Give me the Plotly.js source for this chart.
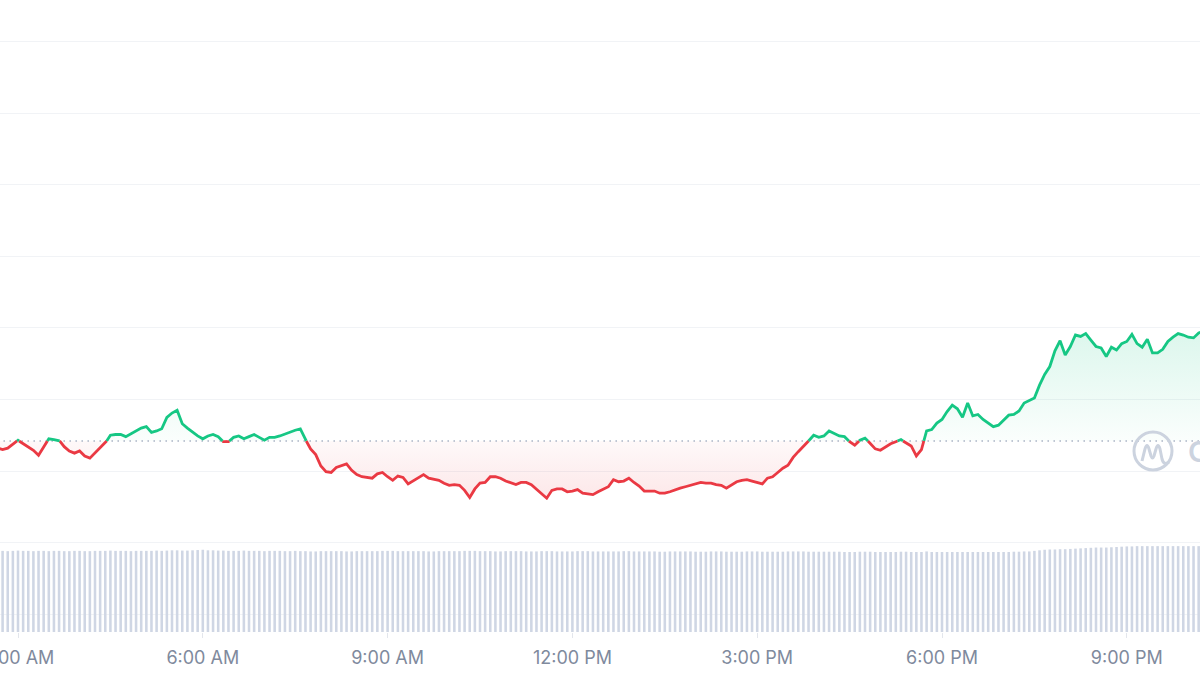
<!DOCTYPE html>
<html>
<head>
<meta charset="utf-8">
<script src="https://cdn.plot.ly/plotly-3.0.1.min.js"></script>
<style>
  html, body { margin: 0; padding: 0; background: #ffffff; }
  #chart { width: 1200px; height: 675px; }
</style>
</head>
<body>
<div id="chart"></div>
<script>
// ---------- DATA (5-minute samples) ----------
const startTime = '2024-06-12 02:40:00';   // first sample
const stepMinutes = 5;
const openPrice = 67042;                   // dotted reference line (24h open)

const prices = [
  67032, 67030, 67032, 67037, 67043, 67038, 67033, 67029, 67022, 67034,
  67045, 67044, 67043, 67034, 67028, 67025, 67028, 67021, 67018, 67025,
  67032, 67039, 67050, 67051, 67051, 67048, 67052, 67055, 67060, 67062,
  67054, 67056, 67059, 67075, 67081, 67085, 67066, 67060, 67054, 67049,
  67045, 67049, 67051, 67048, 67041, 67041, 67047, 67049, 67045, 67048,
  67051, 67047, 67043, 67047, 67047, 67049, 67052, 67055, 67057, 67059,
  67044, 67031, 67023, 67007, 66999, 66998, 67005, 67007, 67010, 67001,
  66995, 66992, 66991, 66990, 66996, 66998, 66992, 66987, 66993, 66991,
  66982, 66986, 66991, 66995, 66990, 66988, 66987, 66983, 66980, 66981,
  66980, 66973, 66963, 66975, 66983, 66984, 66992, 66992, 66990, 66986,
  66983, 66981, 66984, 66984, 66981, 66975, 66968, 66962, 66973, 66975,
  66975, 66971, 66972, 66974, 66969, 66968, 66967, 66971, 66974, 66978,
  66988, 66985, 66986, 66990, 66984, 66979, 66972, 66972, 66972, 66969,
  66969, 66971, 66974, 66976, 66978, 66980, 66982, 66984, 66983, 66983,
  66981, 66980, 66976, 66981, 66985, 66987, 66988, 66986, 66984, 66982,
  66990, 66992, 66998, 67004, 67008, 67019, 67027, 67035, 67042, 67050,
  67047, 67049, 67056, 67053, 67049, 67048, 67041, 67036, 67043, 67046,
  67039, 67031, 67029, 67034, 67038, 67041, 67044, 67039, 67035, 67021,
  67030, 67056, 67058, 67067, 67072, 67083, 67092, 67087, 67075, 67095,
  67077, 67079, 67072, 67067, 67062, 67064, 67071, 67078, 67079, 67084,
  67095, 67099, 67102, 67120, 67135, 67146, 67168, 67182, 67162, 67174,
  67190, 67188, 67192, 67183, 67174, 67172, 67160, 67173, 67169, 67178,
  67181, 67191, 67178, 67173, 67184, 67165, 67165, 67170, 67181, 67187,
  67192, 67190, 67187, 67186, 67193, 67195
];

// 24h volume, billions USD
const volumes = [
  29.1, 29.1, 29.0, 29.1, 29.2, 29.1, 29.1, 29.0, 29.1, 29.1,
  29.0, 29.1, 29.1, 29.0, 29.0, 29.1, 29.1, 29.0, 29.0, 29.1,
  29.1, 29.1, 29.2, 29.1, 29.1, 29.1, 29.0, 29.1, 29.1, 29.1,
  29.1, 29.2, 29.1, 29.2, 29.3, 29.3, 29.2, 29.2, 29.3, 29.4,
  29.5, 29.3, 29.3, 29.2, 29.2, 29.1, 29.1, 29.1, 29.2, 29.1,
  29.1, 29.1, 29.0, 29.1, 29.1, 29.1, 29.0, 29.0, 29.1, 29.0,
  29.0, 28.9, 28.9, 29.0, 29.0, 29.0, 29.0, 29.0, 28.9, 28.9,
  29.0, 29.0, 29.0, 29.0, 29.0, 29.1, 29.1, 29.1, 29.0, 29.0,
  29.0, 29.0, 29.0, 29.0, 28.9, 28.9, 29.0, 29.0, 29.0, 29.0,
  29.0, 29.1, 29.1, 29.1, 29.0, 29.0, 29.0, 28.9, 28.9, 29.0,
  29.0, 29.0, 29.0, 28.9, 28.9, 28.9, 29.0, 29.0, 29.0, 28.9,
  28.9, 28.9, 28.9, 29.0, 29.0, 29.0, 28.9, 28.9, 28.9, 28.9,
  28.9, 28.9, 29.0, 29.0, 28.9, 28.9, 28.9, 28.9, 28.9, 28.8,
  28.8, 28.9, 28.9, 28.9, 28.9, 28.9, 28.8, 28.8, 28.8, 28.9,
  28.9, 28.9, 28.8, 28.8, 28.8, 28.8, 28.9, 28.9, 28.9, 28.8,
  28.8, 28.8, 28.8, 28.8, 28.9, 28.9, 28.9, 28.9, 28.8, 28.8,
  28.8, 28.8, 28.8, 28.8, 28.8, 28.7, 28.7, 28.7, 28.8, 28.8,
  28.8, 28.7, 28.7, 28.7, 28.7, 28.7, 28.8, 28.8, 28.7, 28.7,
  28.7, 28.9, 28.7, 28.7, 28.7, 28.7, 28.7, 28.7, 28.7, 28.7,
  28.7, 28.7, 28.7, 28.7, 28.7, 28.7, 28.7, 28.7, 28.8, 28.8,
  28.9, 28.9, 29.1, 29.3, 29.5, 29.6, 29.6, 29.7, 29.7, 29.8,
  29.9, 30.0, 30.1, 30.2, 30.3, 30.3, 30.3, 30.4, 30.5, 30.6,
  30.7, 30.7, 30.8, 30.8, 30.8, 30.8, 30.8, 30.8, 30.8, 30.8,
  30.8, 30.8, 30.8, 30.8, 30.8, 30.8
];

const tickFormat = '%-I:%M %p';
const viewRange = ['2024-06-12 02:42:28', '2024-06-12 22:11:18'];

// ---------- BUILD ----------
const GREEN = '#16c784', RED = '#ea3943';
const stepMs = stepMinutes * 60000;
const t0 = Date.parse(startTime.replace(' ', 'T') + 'Z');
const times = prices.map((_, i) => t0 + i * stepMs);

// insert crossing points so the colour switches exactly on the open line
const aug = [];
for (let i = 0; i < prices.length; i++) {
  aug.push({ t: times[i], v: prices[i] });
  if (i < prices.length - 1) {
    const a = prices[i] - openPrice, b = prices[i + 1] - openPrice;
    if (a * b < 0) {
      const f = (openPrice - prices[i]) / (prices[i + 1] - prices[i]);
      aug.push({ t: times[i] + f * stepMs, v: openPrice });
    }
  }
}
const ax = aug.map(p => p.t);
const upY = aug.map(p => (p.v >= openPrice ? p.v : null));
const dnY = aug.map(p => (p.v <= openPrice ? p.v : null));
const upFill = aug.map(p => Math.max(p.v, openPrice));
const dnFill = aug.map(p => Math.min(p.v, openPrice));
const baseY = aug.map(() => openPrice);
const maxP = Math.max(...prices), minP = Math.min(...prices);

const traces = [
  { // volume
    type: 'bar', x: times, y: volumes, xaxis: 'x', yaxis: 'y2',
    width: stepMs * 0.5, marker: { color: '#cfd6e4', line: { width: 0 } },
    hoverinfo: 'skip', showlegend: false
  },
  { type: 'scatter', mode: 'lines', x: ax, y: baseY, line: { width: 0 }, hoverinfo: 'skip', showlegend: false },
  { type: 'scatter', mode: 'lines', x: ax, y: upFill, line: { width: 0 }, fill: 'tonexty',
    fillgradient: { type: 'vertical', start: openPrice, stop: maxP,
      colorscale: [[0, 'rgba(22,199,132,0.02)'], [1, 'rgba(22,199,132,0.15)']] },
    hoverinfo: 'skip', showlegend: false },
  { type: 'scatter', mode: 'lines', x: ax, y: baseY, line: { width: 0 }, hoverinfo: 'skip', showlegend: false },
  { type: 'scatter', mode: 'lines', x: ax, y: dnFill, line: { width: 0 }, fill: 'tonexty',
    fillgradient: { type: 'vertical', start: minP, stop: openPrice,
      colorscale: [[0, 'rgba(234,57,67,0.12)'], [1, 'rgba(234,57,67,0.03)']] },
    hoverinfo: 'skip', showlegend: false },
  { // dotted open line
    type: 'scatter', mode: 'lines', x: [times[0], times[times.length - 1]], y: [openPrice, openPrice],
    line: { color: '#a9b2c4', width: 1.5, dash: '1.5px,4.5px' }, hoverinfo: 'skip', showlegend: false },
  { type: 'scatter', mode: 'lines', x: ax, y: dnY, line: { color: RED, width: 2.8 }, connectgaps: false, showlegend: false },
  { type: 'scatter', mode: 'lines', x: ax, y: upY, line: { color: GREEN, width: 2.8 }, connectgaps: false, showlegend: false }
];

// watermark helper (pixel -> paper)
const P = (x, y) => (x / 1200).toFixed(5) + ',' + (1 - y / 675).toFixed(5);
const logoPath = 'M' + P(1142, 461) + ' L' + P(1145, 449) + ' Q' + P(1147, 442) + ' ' + P(1149, 449) +
  ' L' + P(1151, 456) + ' Q' + P(1152.5, 460) + ' ' + P(1154, 456) +
  ' L' + P(1156, 449) + ' Q' + P(1158, 442) + ' ' + P(1160, 449) +
  ' L' + P(1162, 459) + ' Q' + P(1164, 466) + ' ' + P(1169, 462);

const layout = {
  width: 1200, height: 675,
  margin: { l: 0, r: 0, t: 0, b: 0, pad: 0 },
  paper_bgcolor: '#ffffff', plot_bgcolor: 'rgba(0,0,0,0)',
  showlegend: false, hovermode: false,
  font: { family: 'Inter, "Noto Sans", sans-serif', color: '#808a9d' },
  xaxis: {
    type: 'date', range: viewRange, domain: [0, 1], anchor: 'y2',
    tickformat: tickFormat, dtick: 3 * 3600000, tick0: '2024-06-12 00:00:00',
    tickfont: { family: 'Inter, sans-serif', size: 18, color: '#808a9d' },
    ticks: 'outside', ticklen: 5, tickwidth: 1, tickcolor: '#e3e6ec',
    ticklabeloverflow: 'allow', ticklabelstandoff: 4,
    showgrid: false, zeroline: false, showline: false
  },
  yaxis: {
    domain: [0, 1], range: [66715.0, 67658.1], anchor: 'x',
    tick0: 67000, dtick: 100, showticklabels: false, ticks: '',
    showgrid: true, gridcolor: '#f1f3f6', gridwidth: 1, zeroline: false, showline: false
  },
  yaxis2: {
    domain: [43 / 675, 0.2], range: [0, 33], anchor: 'x',
    showgrid: false, showticklabels: false, zeroline: false, showline: false, ticks: ''
  },
  shapes: [
    { type: 'circle', xref: 'paper', yref: 'paper',
      x0: 1134 / 1200, x1: 1172 / 1200, y0: 1 - 470 / 675, y1: 1 - 432 / 675,
      line: { color: '#ccd3df', width: 3 }, layer: 'above' },
    { type: 'path', xref: 'paper', yref: 'paper', path: logoPath,
      line: { color: '#ccd3df', width: 3 }, layer: 'above' }
  ],
  annotations: [
    { xref: 'paper', yref: 'paper', x: 1186 / 1200, y: 1 - 451 / 675, xanchor: 'left', yanchor: 'middle',
      text: 'CoinMarketCap', showarrow: false,
      font: { family: 'Inter, sans-serif', size: 29, color: '#ccd3df', weight: 600 } }
  ]
};

Plotly.newPlot('chart', traces, layout, { staticPlot: true, displayModeBar: false });
</script>
</body>
</html>
